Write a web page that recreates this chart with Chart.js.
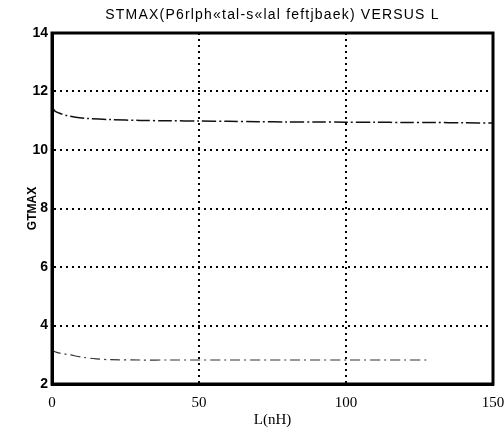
<!DOCTYPE html>
<html>
<head>
<meta charset="utf-8">
<script src="https://cdn.jsdelivr.net/npm/chart.js@4"></script>
<style>
  html, body { margin: 0; padding: 0; background: #fff; }
  #wrap { width: 504px; height: 430px; }
</style>
</head>
<body>
<div id="wrap"><canvas id="c" width="504" height="430"></canvas></div>
<script>
// ---- data ----
const titleText = "STMAX(P6rlph\u00abtal-s\u00ablal feftjbaek) VERSUS L";
const xTitle = "L(nH)";
const yTitle = "GTMAX";
const xTicks = [0, 50, 100, 150];
const yTicks = [2, 4, 6, 8, 10, 12, 14];

const upperL = [0, 1, 3, 5, 8, 12, 20, 30, 40, 50, 60, 70, 80, 90, 100, 110, 120, 130, 140, 150];
const upperG = [11.5, 11.33, 11.24, 11.18, 11.12, 11.08, 11.04, 11.01, 11.0, 10.99, 10.98, 10.97, 10.96, 10.96, 10.95, 10.95, 10.94, 10.94, 10.93, 10.92];

const lowerL = [0, 1, 3, 6, 10, 15, 20, 30, 40, 60, 80, 100, 120, 128];
const lowerG = [3.2, 3.1, 3.05, 3.0, 2.92, 2.86, 2.83, 2.82, 2.82, 2.82, 2.82, 2.82, 2.82, 2.82];

const toPts = (xs, ys) => xs.map((x, i) => ({ x: x, y: ys[i] }));

const framePlugin = {
  id: 'frame',
  afterDraw(chart) {
    const { ctx, chartArea: a } = chart;
    ctx.save();
    ctx.strokeStyle = '#000';
    ctx.lineWidth = 3;
    ctx.strokeRect(a.left, a.top, a.right - a.left, a.bottom - a.top);
    // title
    ctx.fillStyle = '#000';
    ctx.font = '14px "Liberation Sans", Arial, sans-serif';
    ctx.textAlign = 'center';
    ctx.textBaseline = 'middle';
    try { ctx.letterSpacing = '1.2px'; } catch (e) {}
    ctx.fillText(titleText, (a.left + a.right) / 2, 15);
    try { ctx.letterSpacing = '0px'; } catch (e) {}
    // x title
    ctx.font = '15px "Liberation Serif", "Times New Roman", serif';
    ctx.fillText(xTitle, (a.left + a.right) / 2, 420);
    // y title
    ctx.translate(33, (a.top + a.bottom) / 2);
    ctx.rotate(-Math.PI / 2);
    ctx.font = 'bold 12px "Liberation Sans", Arial, sans-serif';
    ctx.fillText(yTitle, 0, 0);
    ctx.restore();
  }
};

const edgeTransparent = (ctx, min, max) => {
  const v = ctx.tick ? ctx.tick.value : null;
  return (v === min || v === max) ? 'rgba(0,0,0,0)' : '#000';
};

new Chart(document.getElementById('c'), {
  type: 'line',
  data: {
    datasets: [
      {
        data: toPts(upperL, upperG),
        borderColor: '#111',
        borderWidth: 1.5,
        borderDash: [14, 3, 2, 3],
        pointRadius: 0,
        tension: 0.3,
        fill: false
      },
      {
        data: toPts(lowerL, lowerG),
        borderColor: '#333',
        borderWidth: 1.2,
        borderDash: [10, 4, 2, 4],
        pointRadius: 0,
        tension: 0.3,
        fill: false
      }
    ]
  },
  options: {
    responsive: false,
    animation: false,
    events: [],
    layout: { autoPadding: false, padding: { left: 0, right: 11, top: 33, bottom: 0 } },
    plugins: { legend: { display: false }, title: { display: false }, tooltip: { enabled: false } },
    scales: {
      x: {
        type: 'linear',
        min: 0, max: 150,
        afterBuildTicks: s => { s.ticks = xTicks.map(v => ({ value: v })); },
        afterFit: s => { s.height = 46; s.paddingLeft = 0; s.paddingRight = 0; },
        ticks: {
          color: '#000',
          font: { family: '"Liberation Serif", "Times New Roman", serif', size: 15 },
          padding: 10,
          maxRotation: 0,
          autoSkip: false
        },
        grid: {
          color: c => edgeTransparent(c, 0, 150),
          lineWidth: 2,
          drawTicks: false
        },
        border: { display: true, color: '#000', width: 3, dash: [2, 4] }
      },
      y: {
        type: 'linear',
        min: 2, max: 14,
        afterBuildTicks: s => { s.ticks = yTicks.map(v => ({ value: v })); },
        afterFit: s => { s.width = 52; s.paddingTop = 0; s.paddingBottom = 0; },
        ticks: {
          color: '#000',
          font: { family: '"Liberation Sans", Arial, sans-serif', size: 14, weight: 'bold' },
          padding: 4,
          autoSkip: false
        },
        grid: {
          color: c => edgeTransparent(c, 2, 14),
          lineWidth: 2,
          drawTicks: false
        },
        border: { display: true, color: '#000', width: 3, dash: [2, 4] }
      }
    }
  },
  plugins: [framePlugin]
});
</script>
</body>
</html>
